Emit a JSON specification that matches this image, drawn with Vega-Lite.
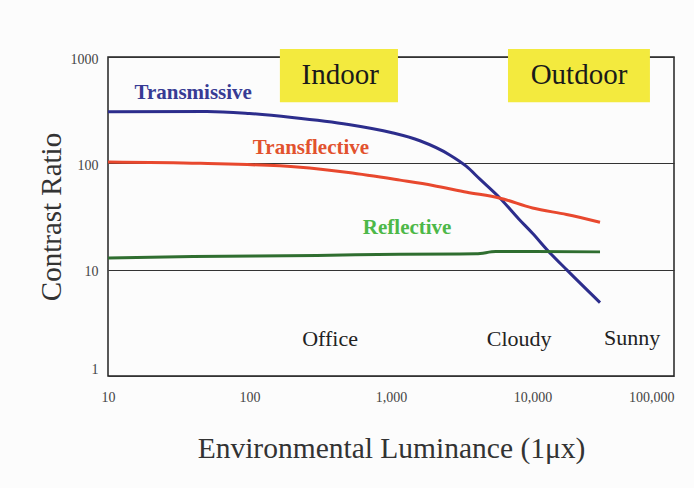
{
  "$schema": "https://vega.github.io/schema/vega-lite/v6.json",
  "width": 566,
  "height": 319,
  "autosize": {"type": "none"},
  "padding": {"left": 108, "top": 57, "right": 20, "bottom": 112},
  "background": "#fcfcfc",
  "config": {
    "view": {"stroke": "#222222", "strokeWidth": 1.5},
    "font": "Liberation Serif",
    "text": {"font": "Liberation Serif"},
    "axis": {"labelFont": "Liberation Serif", "titleFont": "Liberation Serif"}
  },
  "datasets": {
    "curves": [
      {"series": "Transmissive", "lux": 10, "cr": 305},
      {"series": "Transmissive", "lux": 50, "cr": 308},
      {"series": "Transmissive", "lux": 100, "cr": 294},
      {"series": "Transmissive", "lux": 200, "cr": 270},
      {"series": "Transmissive", "lux": 500, "cr": 232},
      {"series": "Transmissive", "lux": 1000, "cr": 195},
      {"series": "Transmissive", "lux": 1600, "cr": 163},
      {"series": "Transmissive", "lux": 2600, "cr": 120},
      {"series": "Transmissive", "lux": 3400, "cr": 94},
      {"series": "Transmissive", "lux": 4250, "cr": 71},
      {"series": "Transmissive", "lux": 5900, "cr": 47},
      {"series": "Transmissive", "lux": 8000, "cr": 30},
      {"series": "Transmissive", "lux": 10000, "cr": 22},
      {"series": "Transmissive", "lux": 12900, "cr": 15},
      {"series": "Transmissive", "lux": 17400, "cr": 10},
      {"series": "Transmissive", "lux": 30000, "cr": 4.9},
      {"series": "Transflective", "lux": 10, "cr": 103},
      {"series": "Transflective", "lux": 45, "cr": 100},
      {"series": "Transflective", "lux": 228, "cr": 92},
      {"series": "Transflective", "lux": 500, "cr": 82},
      {"series": "Transflective", "lux": 1160, "cr": 69.5},
      {"series": "Transflective", "lux": 1980, "cr": 62},
      {"series": "Transflective", "lux": 3440, "cr": 53.5},
      {"series": "Transflective", "lux": 5900, "cr": 47},
      {"series": "Transflective", "lux": 10000, "cr": 38},
      {"series": "Transflective", "lux": 17400, "cr": 33},
      {"series": "Transflective", "lux": 30000, "cr": 27.9},
      {"series": "Reflective", "lux": 10, "cr": 12.9},
      {"series": "Reflective", "lux": 40, "cr": 13.3},
      {"series": "Reflective", "lux": 300, "cr": 13.6},
      {"series": "Reflective", "lux": 1160, "cr": 14.0},
      {"series": "Reflective", "lux": 4000, "cr": 14.1},
      {"series": "Reflective", "lux": 5500, "cr": 14.8},
      {"series": "Reflective", "lux": 30000, "cr": 14.7}
    ],
    "boxes": [
      {"label": "Indoor", "x1": 164, "x2": 1120, "y1": 1190, "y2": 376, "xc": 437, "yc": 677},
      {"label": "Outdoor", "x1": 6710, "x2": 67600, "y1": 1190, "y2": 376, "xc": 21300, "yc": 677}
    ],
    "serieslabels": [
      {"label": "Transmissive", "lux": 40, "cr": 457},
      {"label": "Transflective", "lux": 272, "cr": 139},
      {"label": "Reflective", "lux": 1300, "cr": 24.4}
    ],
    "places": [
      {"label": "Office", "lux": 371, "cr": 2.23},
      {"label": "Cloudy", "lux": 8040, "cr": 2.23},
      {"label": "Sunny", "lux": 50500, "cr": 2.28}
    ]
  },
  "layer": [
    {
      "data": {"name": "curves"},
      "mark": {"type": "line", "strokeWidth": 3, "clip": true, "interpolate": "monotone"},
      "encoding": {
        "x": {
          "field": "lux", "type": "quantitative",
          "scale": {"type": "log", "domain": [10, 100000], "nice": false},
          "axis": {
            "values": [10, 100, 1000, 10000, 100000],
            "format": ",",
            "grid": false,
            "domain": false,
            "tickSize": 0,
            "labelFlush": false,
            "labelAlign": {"condition": {"test": "datum.value == 100000", "value": "right"}, "value": "center"},
            "labelDx": {"condition": {"test": "datum.value == 100000", "value": 4}, "value": 0},
            "labelFontSize": 14,
            "labelColor": "#444444",
            "labelPadding": 14,
            "title": "Environmental Luminance (1μx)",
            "titleFontSize": 29.5,
            "titleFontWeight": "normal",
            "titleColor": "#333333",
            "titlePadding": 30
          }
        },
        "y": {
          "field": "cr", "type": "quantitative",
          "scale": {"type": "log", "domain": [1, 1000], "nice": false},
          "axis": {
            "values": [1, 10, 100, 1000],
            "format": "d",
            "grid": true,
            "gridColor": "#333333",
            "gridWidth": 1,
            "gridOpacity": 1,
            "domain": false,
            "ticks": false,
            "labelOffset": {"condition": {"test": "datum.value == 1", "value": -7}, "value": 2},
            "labelFontSize": 14,
            "labelColor": "#444444",
            "labelPadding": 10,
            "title": "Contrast Ratio",
            "titleFontSize": 29,
            "titleFontWeight": "normal",
            "titleColor": "#333333",
            "titlePadding": 4
          }
        },
        "color": {
          "field": "series", "type": "nominal",
          "scale": {"domain": ["Transmissive", "Transflective", "Reflective"], "range": ["#2c2d8c", "#e8482e", "#2f6e30"]},
          "legend": null
        },
        "order": {"field": "lux", "type": "quantitative"}
      }
    },
    {
      "data": {"name": "boxes"},
      "mark": {"type": "rect", "color": "#f3ea3e", "clip": false},
      "encoding": {
        "x": {"field": "x1", "type": "quantitative", "scale": {"type": "log", "domain": [10, 100000], "nice": false}},
        "x2": {"field": "x2"},
        "y": {"field": "y1", "type": "quantitative", "scale": {"type": "log", "domain": [1, 1000], "nice": false}},
        "y2": {"field": "y2"}
      }
    },
    {
      "data": {"name": "boxes"},
      "mark": {"type": "text", "font": "Liberation Serif", "fontSize": 29, "color": "#1a1a1a", "baseline": "middle", "align": "center"},
      "encoding": {
        "x": {"field": "xc", "type": "quantitative"},
        "y": {"field": "yc", "type": "quantitative"},
        "text": {"field": "label"}
      }
    },
    {
      "data": {"name": "serieslabels"},
      "mark": {"type": "text", "font": "Liberation Serif", "fontSize": 21, "fontWeight": "bold", "baseline": "middle", "align": "center"},
      "encoding": {
        "x": {"field": "lux", "type": "quantitative"},
        "y": {"field": "cr", "type": "quantitative"},
        "text": {"field": "label"},
        "color": {
          "field": "label", "type": "nominal",
          "scale": {"domain": ["Transmissive", "Transflective", "Reflective"], "range": ["#373b94", "#e2522e", "#4db848"]},
          "legend": null
        }
      }
    },
    {
      "data": {"name": "places"},
      "mark": {"type": "text", "font": "Liberation Serif", "fontSize": 22, "color": "#222222", "baseline": "middle", "align": "center"},
      "encoding": {
        "x": {"field": "lux", "type": "quantitative"},
        "y": {"field": "cr", "type": "quantitative"},
        "text": {"field": "label"}
      }
    }
  ],
  "resolve": {"scale": {"color": "independent"}}
}
